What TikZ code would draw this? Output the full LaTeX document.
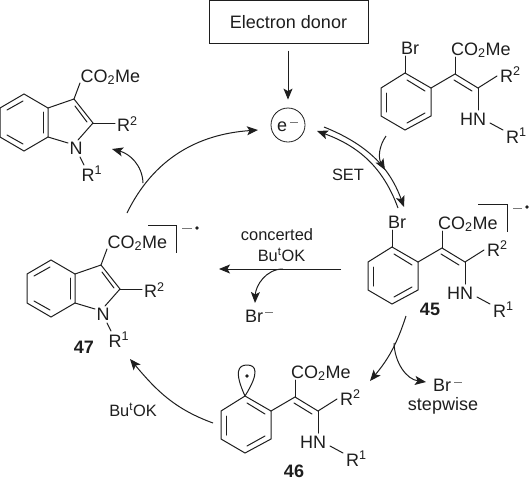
\documentclass[tikz,border=0pt]{standalone}
\usepackage{fontspec}
\setmainfont{Liberation Sans}
\usetikzlibrary{arrows.meta}
\definecolor{dInk}{RGB}{30,30,30}
\tikzset{
  bond/.style={draw=dInk, line width=1pt, line cap=round},
  atom/.style={font=\fontsize{18}{20}\selectfont, text=dInk, inner sep=0pt, anchor=base west},
  lbl/.style={font=\fontsize{16.4}{19}\selectfont, text=dInk, inner sep=0pt, align=center},
  cmpd/.style={font=\fontsize{18}{20}\selectfont\bfseries, text=dInk, inner sep=0pt},
  flow/.style={-{Stealth[length=11pt,width=9pt,inset=2.5pt]}, draw=dInk, line width=1pt},
  wire/.style={draw=dInk, line width=1pt},
  dot/.style={circle, fill=dInk, inner sep=0pt, minimum size=3.6pt},
  minus/.style={draw=dInk!60, line width=0.8pt},
}
% indole skeleton, numbers are for the copy at top left
\newcommand{\indole}[3]{%
  \begin{scope}[shift={(#1,#2)}]
    \foreach \n/\x/\y in {a/24/94,b/48/108,c/48/137,d/24/151,e/0/137,f/0/108,g/74/99,h/93/123}
      {\coordinate (#3\n) at (\x,\y);}
    \draw[bond] (#3a) -- (#3b) -- (#3c) -- (#3d) -- (#3e) -- (#3f) -- cycle;
    \draw[bond] (#3b) -- (#3g) -- (#3h) -- (78,140);
    \draw[bond] (#3c) -- (68,143);
    \draw[bond] (7,110) -- (23,101);
    \draw[bond] (7,135) -- (23,144);
    \draw[bond] (43,112) -- (43,133);
    \draw[bond] (75,106) -- (87,122);
    \draw[bond] (#3g) -- (80,83);
    \draw[bond] (#3h) -- (115,123);
    \draw[bond] (80,157) -- (84,165);
    \node[atom] (#3est) at (80.5,82) {CO\textsubscript{2}Me};
    \node[atom] (#3rb) at (117,131.5) {R\textsuperscript{2}};
    \node[atom, anchor=base] (#3n) at (76,154) {N};
    \node[atom] (#3ra) at (81.5,181) {R\textsuperscript{1}};
  \end{scope}}
% aryl enamine skeleton, numbers are for the copy at top right
\newcommand{\enamine}[3]{%
  \begin{scope}[shift={(#1,#2)}]
    \foreach \n/\x/\y in {a/405/73,b/431/88,c/431/116,d/405/130,e/381/116,f/381/88,g/455/74,h/478/88}
      {\coordinate (#3\n) at (\x,\y);}
    \draw[bond] (#3a) -- (#3b) -- (#3c) -- (#3d) -- (#3e) -- (#3f) -- cycle;
    \draw[bond] (#3b) -- (#3g) -- (#3h);
    \draw[bond] (386.5,93) -- (386.5,112);
    \draw[bond] (407,80) -- (425,91);
    \draw[bond] (407,123) -- (425,113);
    \draw[bond] (454,80) -- (472,91);
    \draw[bond] (#3g) -- (455,57);
    \draw[bond] (#3h) -- (497,76);
    \draw[bond] (#3h) -- (478,110);
    \draw[bond] (490,123) -- (503,130);
    \node[atom] (#3est) at (451,55) {CO\textsubscript{2}Me};
    \node[atom] (#3rb) at (500,82) {R\textsuperscript{2}};
    \node[atom] (#3hn) at (460,125) {HN};
    \node[atom] (#3ra) at (506,143) {R\textsuperscript{1}};
  \end{scope}}

\begin{document}
\begin{tikzpicture}[x=1pt, y=-1pt]
  \useasboundingbox (0,0) rectangle (530,480);

  % ---- electron donor and e- ----
  \node[draw=dInk, line width=0.8pt, minimum width=159pt, minimum height=42.5pt,
        inner sep=0pt, font=\fontsize{18}{20}\selectfont, text=dInk] (donor) at (288.5,22) {Electron donor};
  \node[circle, draw=dInk, line width=0.8pt, minimum size=34pt, inner sep=0pt] (elec) at (288,125) {};
  \node[atom] (etxt) at (277,131) {e};
  \draw[minus] (290,122) -- (298,122);
  \draw[flow, shorten <=7pt, shorten >=8pt] (donor.south -| elec) -- (elec.north);

  % ---- the four structures ----
  \indole{0}{0}{ia}
  \indole{27}{166}{ib}
  \enamine{0}{0}{ea}
  \enamine{-13}{174}{eb}
  \enamine{-160}{323}{ec}
  \draw[bond] (eaa) -- (405,56);
  \node[atom] (bra) at (401,54) {Br};
  \draw[bond] (eba) -- (392,230);
  \node[atom] (brb) at (388,228) {Br};

  % ---- orbital on 46 ----
  \draw[bond] (eca) .. controls (234,372) and (238,365) .. (247,365)
              .. controls (256,365) and (260,372) .. (eca);
  \node[dot] (spin) at (247,376) {};

  % ---- radical anion brackets ----
  \coordinate (brk47a) at (148,225);
  \coordinate (brk47b) at (176,253);
  \draw[wire] (brk47a) -| (brk47b);
  \draw[minus] (182,228) -- (192,228);
  \node[dot] (dot47) at (197,228) {};
  \coordinate (brk45a) at (478,204);
  \coordinate (brk45b) at (507,232);
  \draw[wire] (brk45a) -| (brk45b);
  \draw[minus] (513,208) -- (522,208);
  \node[dot] (dot45) at (527,207) {};

  % ---- compound numbers ----
  \node[cmpd] (n45) at (430,309) {45};
  \node[cmpd] (n46) at (294,471.5) {46};
  \node[cmpd] (n47) at (84,347) {47};

  % ---- labels ----
  \node[lbl] (set) at (348,175) {SET};
  \node[lbl] (conc) at (277,235) {concerted};
  \node[lbl] (bua) at (281.5,255) {Bu\textsuperscript{t}OK};
  \node[lbl] (bub) at (133,410) {Bu\textsuperscript{t}OK};
  \node[lbl, font=\fontsize{18}{20}\selectfont] (step) at (443,406) {stepwise};
  \node[atom] (bryl) at (245,322) {Br};
  \draw[minus] (265,312) -- (273,312);
  \node[atom] (brym) at (433,391) {Br};
  \draw[minus] (454,382) -- (462,382);

  % ---- free ends of the arrows ----
  \coordinate (upS) at (127,213);
  \coordinate (upM) at (143,183);
  \coordinate (upE) at (258,130);
  \coordinate (upB) at (112,149);
  \coordinate (setaS) at (324,127);
  \coordinate (setaE) at (404,207);
  \coordinate (setbS) at (398,208);
  \coordinate (setbE) at (317,131);
  \coordinate (inS) at (386,136);
  \coordinate (inE) at (385,170);
  \coordinate (concS) at (341,269);
  \coordinate (concM) at (283,269);
  \coordinate (concE) at (219,269);
  \coordinate (concB) at (255,303);
  \coordinate (lowS) at (406,316);
  \coordinate (lowM) at (394,343);
  \coordinate (lowE) at (370,381);
  \coordinate (lowB) at (426,382);
  \coordinate (backS) at (213,423);
  \coordinate (backE) at (130,359);

  % ===== cycle arrows =====
  \draw[flow] (upS) to[out=64,in=184] (upE);
  \draw[flow] (upM) to[out=92,in=-15] (upB);
  \draw[flow] (setaS) to[out=-22,in=110] (setaE);
  \draw[flow] (setbS) to[out=110,in=-20] (setbE);
  \draw[flow] (inS) to[out=-125,in=120] (inE);
  \draw[flow] (concS) -- (concE);
  \draw[flow] (concM) to[out=180,in=88] (concB);
  \draw[flow] (lowS) to[out=-108,in=50] (lowE);
  \draw[flow] (lowM) to[out=-88,in=172] (lowB);
  \draw[flow] (backS) to[out=160,in=-50] (backE);

\end{tikzpicture}
\end{document}
